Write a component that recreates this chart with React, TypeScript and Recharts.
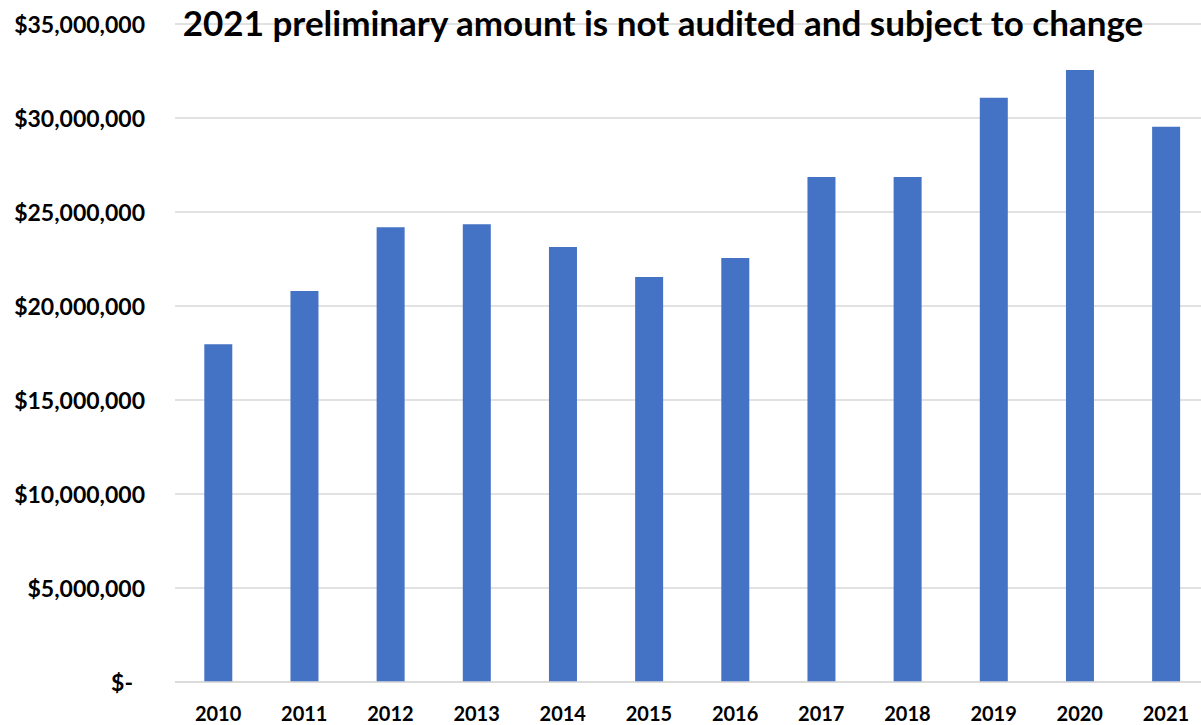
import { Bar, BarChart, CartesianGrid, XAxis, YAxis } from "recharts";

const years = ["2010", "2011", "2012", "2013", "2014", "2015", "2016", "2017", "2018", "2019", "2020", "2021"];
const amounts = [
  17960000, 20800000, 24190000, 24350000, 23140000, 21540000,
  22550000, 26860000, 26860000, 31080000, 32550000, 29540000,
];
const yTicks = [0, 5000000, 10000000, 15000000, 20000000, 25000000, 30000000, 35000000];
const TITLE = "2021 preliminary amount is not audited and subject to change";

const data = years.map((year, i) => ({ year, amount: amounts[i] }));

const FONT = "Lato, 'Open Sans', sans-serif";
const BAR = "#4472C4";
const GRID = "#d9d9d9";

const money = (v: number) =>
  v === 0 ? "$-" : "$" + v.toLocaleString("en-US");

function YTick({ x, y, payload }: any) {
  const v = Number(payload.value);
  return (
    <text
      x={x - (v === 0 ? 42 : 30)}
      y={y}
      textAnchor="end"
      dominantBaseline="central"
      fontFamily={FONT}
      fontWeight={700}
      fontSize={23}
      fill="#000"
    >
      {money(v)}
    </text>
  );
}

function XTick({ x, y, payload }: any) {
  return (
    <text
      x={x}
      y={y + 31}
      textAnchor="middle"
      dominantBaseline="central"
      fontFamily={FONT}
      fontWeight={700}
      fontSize={20}
      fill="#000"
    >
      {payload.value}
    </text>
  );
}

export default function App() {
  return (
    <div
      style={{
        position: "absolute",
        left: 0,
        top: 0,
        width: 1201,
        height: 725,
        overflow: "hidden",
        background: "#fff",
      }}
    >
      <BarChart
        width={1209}
        height={725}
        data={data}
        margin={{ top: 24, right: 0, bottom: 0, left: 0 }}
        barCategoryGap="34%"
      >
        <CartesianGrid stroke={GRID} strokeWidth={1.5} vertical={false} />
        <XAxis
          dataKey="year"
          axisLine={{ stroke: GRID, strokeWidth: 1.5 }}
          tickLine={false}
          tickSize={0}
          tickMargin={0}
          tick={<XTick />}
          height={43}
          interval={0}
        />
        <YAxis
          width={175}
          domain={[0, 35000000]}
          ticks={yTicks}
          axisLine={false}
          tickLine={false}
          tickSize={0}
          tickMargin={0}
          tick={<YTick />}
          interval={0}
        />
        <Bar dataKey="amount" fill={BAR} isAnimationActive={false} />
      </BarChart>
      <div
        style={{
          position: "absolute",
          left: 0,
          top: 0,
          width: 1326,
          textAlign: "center",
          fontFamily: FONT,
          fontWeight: 700,
          fontSize: 35,
          lineHeight: "44px",
          color: "#000",
          whiteSpace: "nowrap",
        }}
      >
        {TITLE}
      </div>
    </div>
  );
}
